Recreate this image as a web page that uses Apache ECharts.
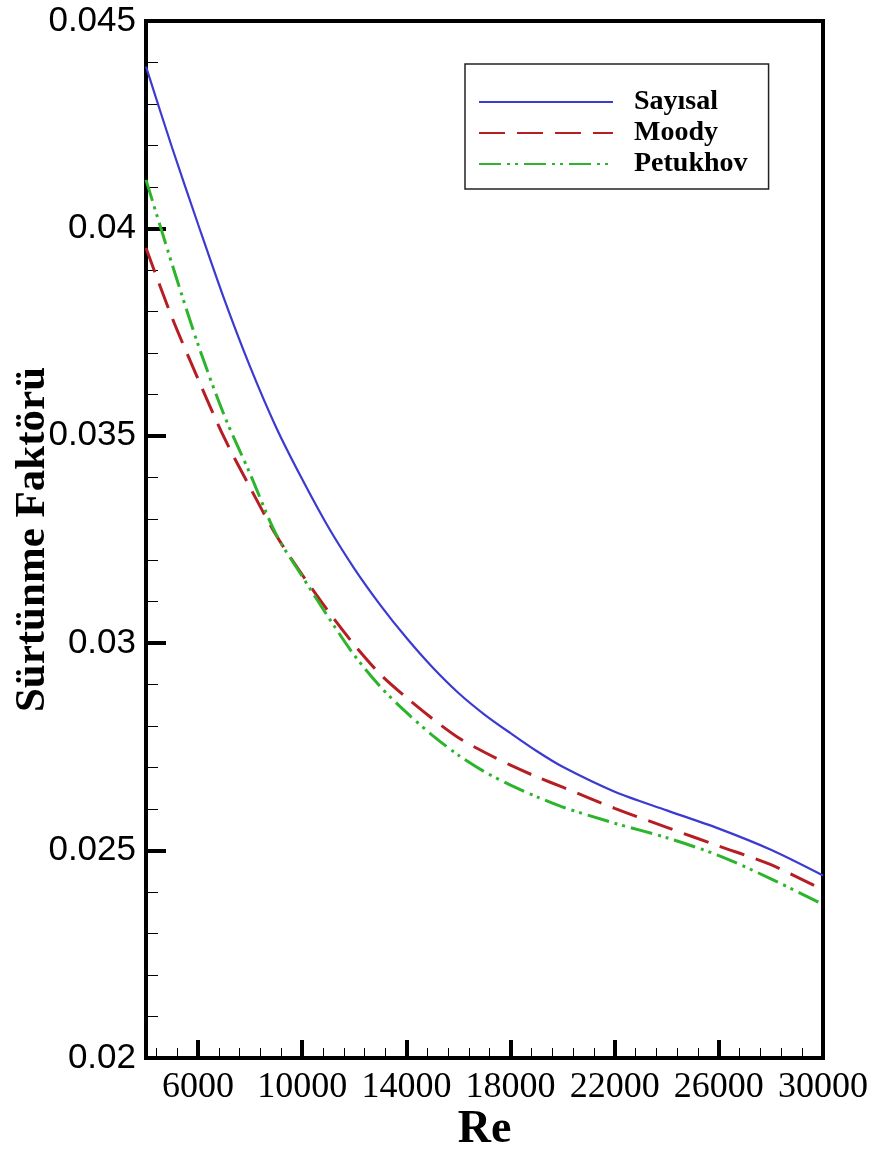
<!DOCTYPE html>
<html>
<head>
<meta charset="utf-8">
<script src="https://cdn.jsdelivr.net/npm/echarts@6/dist/echarts.min.js"></script>
<style>
html,body{margin:0;padding:0;background:#fff;}
#c{width:877px;height:1151px;}
</style>
</head>
<body>
<div id="c"></div>
<script>
// Reynolds numbers (x)
const reValues = [4000,5000,6000,7000,8000,9000,10000,11000,12000,13000,14000,15000,16000,17000,18000,19000,20000,22000,24000,26000,28000,30000];
// Friction factor series
const sayisal  = [0.04390,0.04195,0.04010,0.03830,0.03666,0.03520,0.03395,0.03280,0.03180,0.03092,0.03013,0.02942,0.02880,0.02828,0.02783,0.02740,0.02702,0.02642,0.02597,0.02553,0.02502,0.02440];
const moody    = [0.03953,0.03785,0.03637,0.03496,0.03375,0.03260,0.03165,0.03077,0.02996,0.02925,0.02869,0.02818,0.02772,0.02737,0.02706,0.02678,0.02653,0.02602,0.02556,0.02511,0.02466,0.02405];
const petukhov = [0.04117,0.03914,0.03720,0.03550,0.03408,0.03262,0.03161,0.03063,0.02971,0.02895,0.02833,0.02778,0.02730,0.02690,0.02658,0.02630,0.02605,0.02566,0.02531,0.02488,0.02432,0.02370];
const seriesNames = ['Sayısal','Moody','Petukhov'];
// Axis tick values
const xLabelValues = [6000,10000,14000,18000,22000,26000,30000];
const xMajorTicks = [6000,10000,14000,18000,22000,26000];
const xMinorTicks = [4400,5200,6800,7600,8400,9200,10800,11600,12400,13200,14800,15600,16400,17200,18800,19600,20400,21200,22800,23600,24400,25200,26800,27600,28400,29200];

const toPairs = arr => reValues.map((x,i)=>[x,arr[i]]);

const chart = echarts.init(document.getElementById('c'), null, {renderer:'canvas'});
const serif = "'Liberation Serif','Times New Roman',serif";
const sans = "'Liberation Sans',Arial,sans-serif";

chart.setOption({
  backgroundColor:'#fff',
  animation:false,
  grid:{left:146,right:54,top:21,bottom:93,containLabel:false,outerBoundsMode:'none',
        show:true,borderColor:'#000',borderWidth:4,backgroundColor:'transparent'},
  legend:{
    orient:'vertical', left:465, top:64,
    data:seriesNames,
    itemWidth:134, itemHeight:14, itemGap:3,
    borderColor:'#222', borderWidth:1.5,
    padding:[24,21,11,13],
    backgroundColor:'#fff',
    itemStyle:{opacity:0},
    textStyle:{fontFamily:serif,fontWeight:'bold',fontSize:28,lineHeight:28,color:'#000',padding:[0,0,0,16]}
  },
  xAxis:[{
    type:'value', min:4000, max:30000,
    name:'Re', nameLocation:'middle', nameGap:49, nameMoveOverlap:false,
    nameTextStyle:{fontFamily:serif,fontWeight:'bold',fontSize:46,color:'#000'},
    axisLine:{show:true,lineStyle:{color:'#000',width:4}},
    axisTick:{show:true,inside:true,length:18,lineStyle:{color:'#000',width:4},customValues:xMajorTicks},
    axisLabel:{show:true,fontFamily:serif,fontSize:36,color:'#000',margin:12,customValues:xLabelValues,
      formatter:v=>String(v)},
    splitLine:{show:false}
  },{
    type:'value', min:4000, max:30000, position:'bottom',
    axisLine:{show:false},
    axisTick:{show:true,inside:true,length:10,lineStyle:{color:'#000',width:1},customValues:xMinorTicks},
    axisLabel:{show:false},
    splitLine:{show:false}
  }],
  yAxis:{
    type:'value', min:0.02, max:0.045, interval:0.005,
    name:'Sürtünme Faktörü', nameLocation:'middle', nameGap:92, nameMoveOverlap:false,
    nameTextStyle:{fontFamily:serif,fontWeight:'bold',fontSize:43,color:'#000'},
    axisLine:{show:true,lineStyle:{color:'#000',width:4}},
    axisTick:{show:true,inside:true,length:20,lineStyle:{color:'#000',width:4}},
    minorTick:{show:true,splitNumber:5,length:12,lineStyle:{color:'#000',width:1}},
    axisLabel:{fontFamily:sans,fontSize:35,color:'#000',margin:10,
      formatter:v=>String(parseFloat(v.toFixed(4)))},
    splitLine:{show:false}
  },
  series:[
    {name:seriesNames[0],type:'line',data:toPairs(sayisal),symbol:'none',smooth:0.3,
     lineStyle:{color:'#3b3bd1',width:2.2,type:'solid'},itemStyle:{color:'#3b3bd1'}},
    {name:seriesNames[1],type:'line',data:toPairs(moody),symbol:'none',smooth:0.3,
     lineStyle:{color:'#b51f24',width:3,type:[26,12]},itemStyle:{color:'#b51f24'}},
    {name:seriesNames[2],type:'line',data:toPairs(petukhov),symbol:'none',smooth:0.3,
     lineStyle:{color:'#2cb52c',width:3,type:[22,6,3,5,3,6]},itemStyle:{color:'#2cb52c'}}
  ]
});
</script>
</body>
</html>
